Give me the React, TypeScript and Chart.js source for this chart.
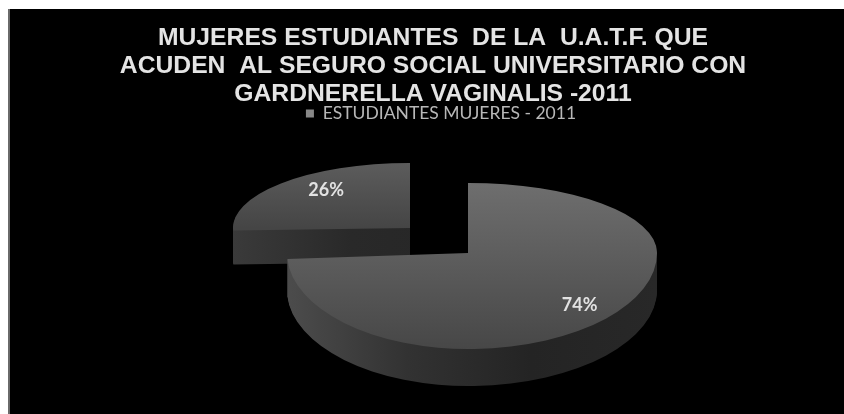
import React, { useEffect, useRef } from "react";
import { Chart, registerables } from "chart.js";

Chart.register(...registerables);

const categories = ["Con Gardnerella", "Sin Gardnerella"];
const shares = [74, 26];
const seriesName = "ESTUDIANTES MUJERES - 2011";
const titleLines = [
  "MUJERES ESTUDIANTES  DE LA  U.A.T.F. QUE",
  "ACUDEN  AL SEGURO SOCIAL UNIVERSITARIO CON",
  "GARDNERELLA VAGINALIS -2011",
];

const WIDTH = 836;
const HEIGHT = 406;

// projection of each slice in canvas pixels: pie seen in perspective
const projections = [
  { tx: 460, ty: 245, left: 181, right: 189, up: 70, down: 96, depth: 37, labelX: 0.81, labelY: 0.79,
    top: ["#6e6e6e", "#5e5e5e", "#474747"], wall: ["#4c4c4c", "#323232", "#242424", "#282828"] },
  { tx: 402, ty: 220, left: 177, right: 177, up: 65, down: 40, depth: 34, labelX: 0.65, labelY: 0.85,
    top: ["#5c5c5c", "#454545", "#454545"], wall: ["#3a3a3a", "#292929", "#262626", "#262626"] },
];

const pie3d = {
  id: "pie3d",
  beforeDraw(chart: any) {
    const { ctx } = chart;
    ctx.save();
    ctx.fillStyle = "#000000";
    ctx.fillRect(0, 1, WIDTH, HEIGHT - 1);
    ctx.fillStyle = "#6a6a6a";
    ctx.fillRect(0, 1, 2, HEIGHT - 1);
    ctx.restore();
  },
  afterLayout(chart: any) {
    chart.legend.left += 8;
    chart.legend.right += 8;
    chart.legend.top -= 7;
    chart.legend.bottom -= 7;
  },
  beforeDatasetsDraw(chart: any) {
    const { ctx } = chart;
    const arcs = chart.getDatasetMeta(0).data;

    const paint = (el: any, p: any, dy: number) => {
      const R = el.outerRadius;
      for (const sx of [-1, 1]) {
        for (const sy of [-1, 1]) {
          ctx.save();
          ctx.beginPath();
          const cy = p.ty + dy;
          ctx.rect(sx < 0 ? 0 : p.tx, sy < 0 ? 0 : cy, sx < 0 ? p.tx : WIDTH - p.tx, sy < 0 ? cy : HEIGHT - cy);
          ctx.clip();
          ctx.translate(p.tx, cy);
          ctx.scale((sx < 0 ? p.left : p.right) / R, (sy < 0 ? p.up : p.down) / R);
          ctx.translate(-el.x, -el.y);
          el.draw(ctx);
          ctx.restore();
        }
      }
    };

    // small slice first, the large one overlaps it
    for (const i of [1, 0]) {
      const el = arcs[i];
      const p = projections[i];
      const R = el.outerRadius;
      const base = el.options;

      const wall = ctx.createLinearGradient(el.x - R, 0, el.x + R, 0);
      p.wall.forEach((c, k) => wall.addColorStop(k / (p.wall.length - 1), c));
      el.options = { ...base, backgroundColor: wall };
      for (let d = p.depth; d >= 1; d--) paint(el, p, d);

      const face = ctx.createLinearGradient(0, el.y - R, 0, el.y + R);
      p.top.forEach((c, k) => face.addColorStop(k / (p.top.length - 1), c));
      el.options = { ...base, backgroundColor: face };
      paint(el, p, 0);
      el.options = base;
    }

    // percentage labels
    ctx.save();
    ctx.font = "bold 18px Lato";
    ctx.fillStyle = "#e2e2e2";
    ctx.textAlign = "center";
    ctx.textBaseline = "middle";
    arcs.forEach((el: any, i: number) => {
      const p = projections[i];
      const mid = (el.startAngle + el.endAngle) / 2;
      const cx = Math.cos(mid);
      const cy = Math.sin(mid);
      const x = p.tx + cx * (cx < 0 ? p.left : p.right) * p.labelX;
      const y = p.ty + cy * (cy < 0 ? p.up : p.down) * p.labelY;
      ctx.fillText(`${shares[i]}%`, x, y);
    });
    ctx.restore();
    return false;
  },
};

export default function App() {
  const ref = useRef<HTMLCanvasElement>(null);
  useEffect(() => {
    const chart = new Chart(ref.current as HTMLCanvasElement, {
      type: "pie",
      data: {
        labels: categories,
        datasets: [{ label: seriesName, data: shares, backgroundColor: ["#606060", "#505050"], borderWidth: 0, hoverOffset: 0 }],
      },
      options: {
        animation: false,
        responsive: false,
        devicePixelRatio: 1,
        layout: { padding: { left: 14, top: 0, right: 0, bottom: 0 } },
        plugins: {
          tooltip: { enabled: false },
          title: {
            display: true,
            text: titleLines,
            color: "#e4e4e4",
            font: { family: "'Liberation Sans'", size: 24.7, weight: "bold", lineHeight: 1.13 },
            padding: { top: 16, bottom: 0 },
          },
          legend: {
            display: true,
            position: "top",
            labels: {
              color: "#b8b8b8",
              font: { family: "Lato", size: 17.5 },
              boxWidth: 8,
              boxHeight: 8,
              padding: 4,
              generateLabels: () => [
                { text: seriesName, fillStyle: "#888888", strokeStyle: "#888888", lineWidth: 0, fontColor: "#b8b8b8", datasetIndex: 0 } as any,
              ],
            },
          },
        },
      },
      plugins: [pie3d as any],
    });
    return () => chart.destroy();
  }, []);
  return (
    <canvas
      ref={ref}
      width={WIDTH}
      height={HEIGHT}
      style={{ position: "absolute", left: 8, top: 8, width: WIDTH, height: HEIGHT, filter: "blur(0.5px)" }}
    />
  );
}
